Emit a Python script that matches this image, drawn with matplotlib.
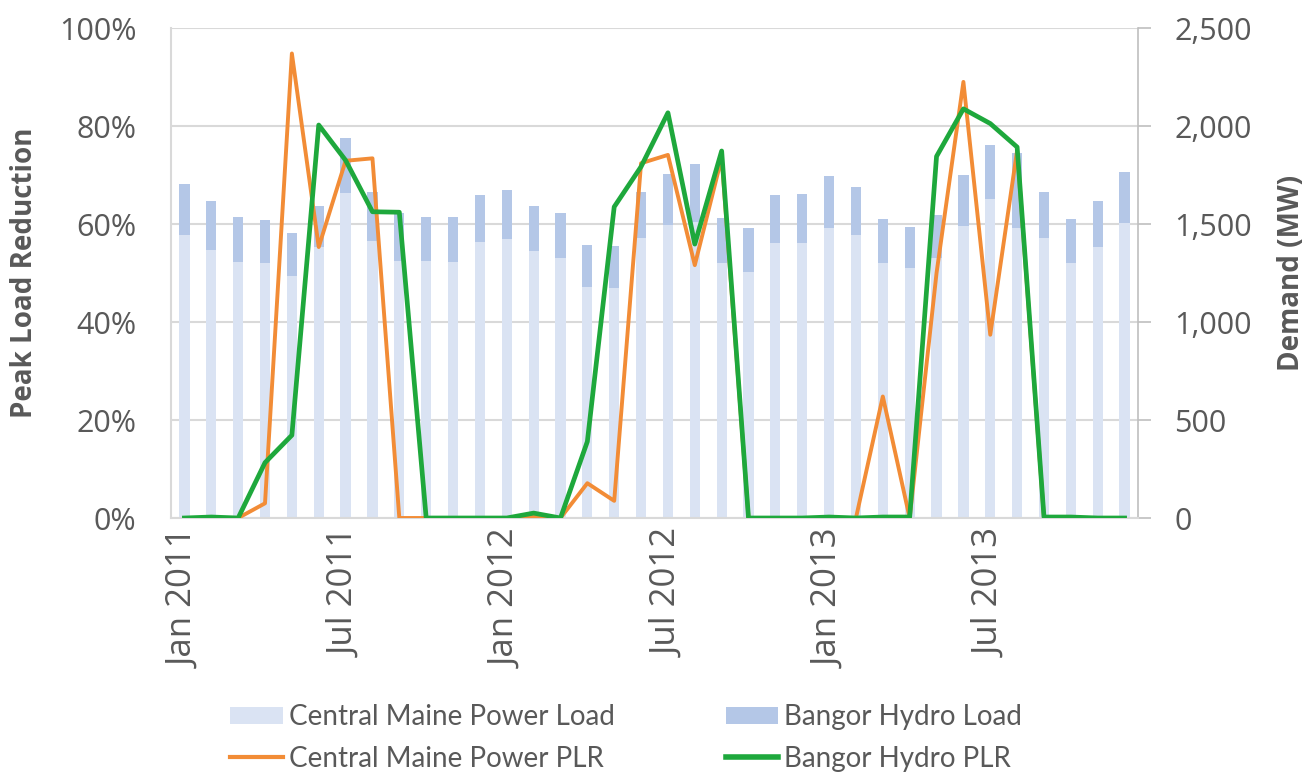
import matplotlib
matplotlib.use("Agg")
import matplotlib.pyplot as plt
from matplotlib.ticker import PercentFormatter, FuncFormatter
from matplotlib.patches import Patch
from matplotlib.lines import Line2D
import numpy as np

# ---- data ----
month_names = ["Jan", "Feb", "Mar", "Apr", "May", "Jun",
               "Jul", "Aug", "Sep", "Oct", "Nov", "Dec"]
years = [2011, 2012, 2013]
months = [f"{m} {y}" for y in years for m in month_names]
tick_labels = ["Jan 2011", "Jul 2011", "Jan 2012", "Jul 2012", "Jan 2013", "Jul 2013"]

cmp_load = [1444, 1367, 1304, 1299, 1235, 1384, 1657, 1413, 1313, 1313, 1304, 1407,
            1423, 1362, 1328, 1180, 1175, 1430, 1495, 1510, 1299, 1253, 1403, 1405,
            1478, 1444, 1299, 1274, 1325, 1490, 1630, 1478, 1430, 1299, 1384, 1504]
bh_load = [260, 250, 233, 221, 217, 209, 283, 252, 242, 224, 233, 241,
           250, 232, 227, 213, 213, 235, 259, 295, 234, 227, 244, 246,
           267, 246, 225, 211, 221, 260, 273, 385, 235, 225, 233, 260]
cmp_plr = [0, 0, 0, 3.0, 94.8, 55.3, 72.9, 73.4, 0, 0, 0, 0,
           0, 0.3, 0, 7.1, 3.5, 72.4, 74.1, 51.6, 73.5, 0, 0, 0,
           0, 0, 24.8, 0, 50.0, 89.0, 37.4, 75.0, 0, 0, 0, 0]
bh_plr = [0, 0.2, 0, 11.3, 16.9, 80.2, 73.0, 62.5, 62.4, 0, 0, 0,
          0, 1.0, 0, 15.6, 63.5, 71.7, 82.7, 55.9, 74.9, 0, 0, 0,
          0.2, 0, 0.2, 0.2, 73.8, 83.5, 80.5, 75.7, 0.2, 0.2, 0, 0]

# ---- style ----
c_cmp_load = "#dae3f3"
c_bh_load = "#b4c7e7"
c_cmp_plr = "#f28c36"
c_bh_plr = "#1ea83c"
c_text = "#595959"
c_grid = "#d9d9d9"

tick_font = "Open Sans"
legend_font = "Lato"

fig = plt.figure(figsize=(13.11, 7.74), dpi=100)
ax = fig.add_axes([171/1311, 1 - 518/774, (1138-171)/1311, (518-28)/774])
axl = ax.twinx()
x = np.arange(len(months))

# bars on the base axes (drawn underneath), ticks on the right
ax.bar(x, cmp_load, width=0.38, color=c_cmp_load, zorder=2)
ax.bar(x, bh_load, width=0.38, bottom=cmp_load, color=c_bh_load, zorder=2)
ax.set_ylim(0, 2500)
ax.set_yticks(np.arange(0, 2501, 500))
ax.yaxis.set_major_formatter(FuncFormatter(lambda v, p: f"{int(v):,}"))
ax.grid(axis="y", color=c_grid, linewidth=1.5, zorder=0)
ax.set_axisbelow(True)

ax.set_xlim(-0.5, len(months) - 0.5)
tick_pos = [months.index(t) for t in tick_labels]
ax.set_xticks(tick_pos)
ax.set_xticklabels(tick_labels, rotation=90, fontsize=25, color=c_text,
                   fontfamily=tick_font)
ax.tick_params(axis="x", length=0, pad=8)

ax.spines["top"].set_visible(False)
ax.spines["right"].set_color("#bfbfbf")
ax.spines["right"].set_linewidth(1.2)
ax.spines["left"].set_color(c_grid)
ax.spines["left"].set_linewidth(1.5)
ax.spines["bottom"].set_color(c_grid)
ax.spines["bottom"].set_linewidth(1.5)

# lines on twin axes
axl.plot(x, cmp_plr, color=c_cmp_plr, linewidth=2.8, zorder=3)
axl.plot(x, bh_plr, color=c_bh_plr, linewidth=3.4, zorder=4)
axl.set_ylim(0, 100)
axl.set_yticks(np.arange(0, 101, 20))
axl.yaxis.set_major_formatter(PercentFormatter(decimals=0))
for s in axl.spines.values():
    s.set_visible(False)

# swap sides: percentages on the left, MW on the right
axl.yaxis.tick_left()
axl.yaxis.set_label_position("left")
ax.yaxis.tick_right()
ax.yaxis.set_label_position("right")

axl.tick_params(axis="y", which="both", left=True, right=False, labelleft=True,
                labelright=False, length=0, labelsize=22, labelcolor=c_text, pad=25)
ax.tick_params(axis="y", which="major", left=False, right=True, labelleft=False,
               labelright=True, length=9, width=1.2, color="#bfbfbf",
               labelsize=22, labelcolor=c_text, pad=17)
for lab in axl.get_yticklabels() + ax.get_yticklabels():
    lab.set_fontfamily(tick_font)

axl.set_ylabel("Peak Load Reduction", fontsize=20, fontweight="bold", color=c_text,
               fontfamily=tick_font, labelpad=14)
ax.set_ylabel("Demand (MW)", fontsize=20, fontweight="bold", color=c_text,
              fontfamily=tick_font, labelpad=18)

# legend
handles = [Patch(facecolor=c_cmp_load, edgecolor="none"),
           Line2D([0], [0], color=c_cmp_plr, linewidth=3),
           Patch(facecolor=c_bh_load, edgecolor="none"),
           Line2D([0], [0], color=c_bh_plr, linewidth=4)]
labels = ["Central Maine Power Load", "Central Maine Power PLR",
          "Bangor Hydro Load", "Bangor Hydro PLR"]
leg = fig.legend(handles, labels, loc="center", ncol=2,
                 bbox_to_anchor=(626/1311, 1 - 738/774),
                 frameon=False, handlelength=1.9, handleheight=0.6,
                 handletextpad=0.2, columnspacing=4.0, labelspacing=0.55,
                 prop={"family": legend_font, "size": 20})
for t in leg.get_texts():
    t.set_color(c_text)

fig.savefig("out.png", dpi=100)
